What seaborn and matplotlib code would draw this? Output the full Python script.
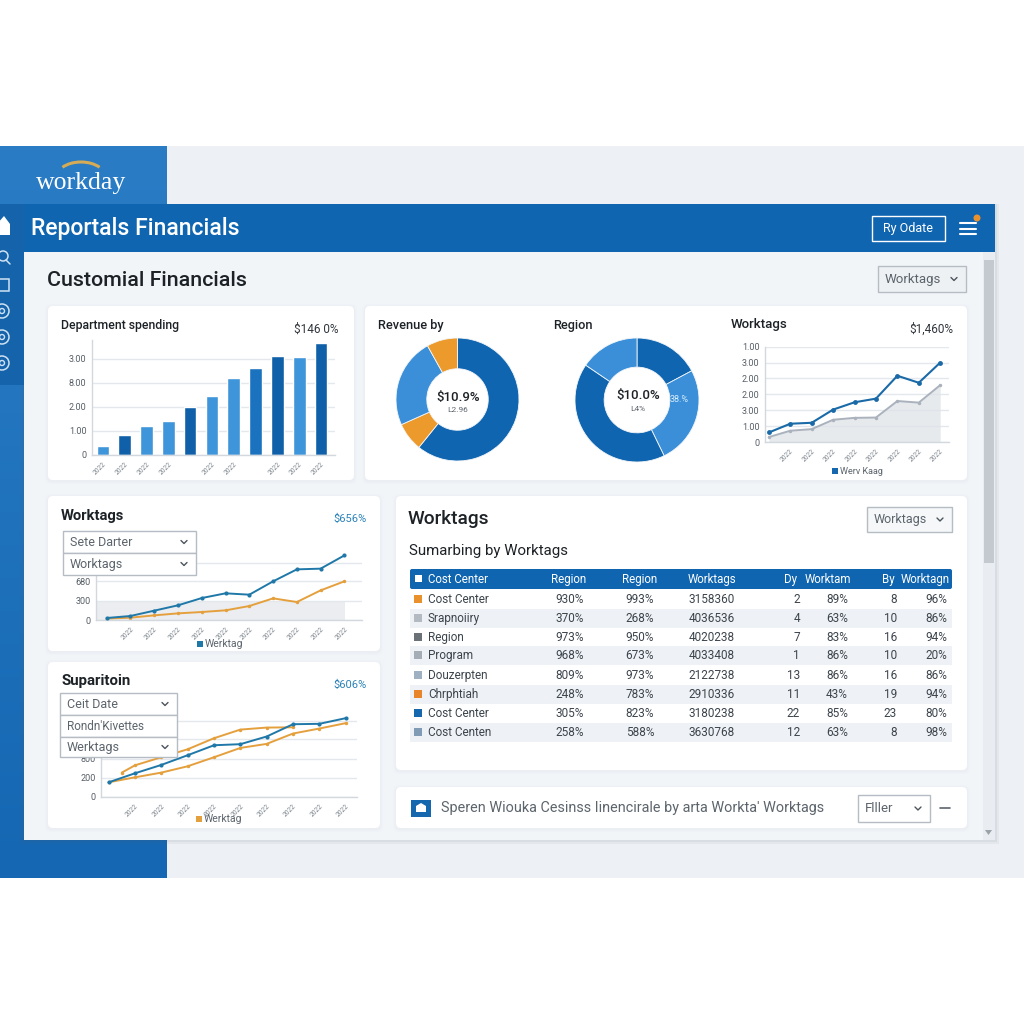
import numpy as np
import pandas as pd
import seaborn as sns
from matplotlib import pyplot as plt
from matplotlib.patches import FancyBboxPatch, Rectangle, Arc, Polygon, Circle

# values
bar_values = [0.38, 0.84, 1.22, 1.40, 1.99, 2.46, 3.19, 3.61, 4.14, 4.07, 4.67]
bar_tones = ["light", "dark", "light", "light", "dark", "light", "light", "mid", "dark", "light", "dark"]
bar_ticks = ["0", "1.00", "2.00", "8.00", "3.00"]

donut_one = [60.8, 7.5, 23.6, 8.1]
donut_two = [17.2, 25.6, 41.7, 15.5]

tags_dark = [0.60, 1.15, 1.21, 2.04, 2.50, 2.73, 4.17, 3.73, 5.00]
tags_gray = [0.31, 0.71, 0.81, 1.40, 1.52, 1.54, 2.58, 2.48, 3.58]
tags_ticks = ["0", "1.00", "3.00", "2.00", "2.00", "3.00", "1.00"]

mid_blue = [31, 62, 145, 228, 341, 414, 393, 600, 786, 797, 1003]
mid_orange = [21, 36, 72, 103, 124, 150, 217, 336, 279, 460, 600]

low_blue = [153, 247, 334, 435, 539, 550, 630, 758, 762, 821]
low_orange = [153, 205, 254, 320, 414, 511, 553, 661, 713, 769]
low_upper_x = [0.5, 1, 2, 3, 4, 5, 6, 7]
low_upper = [254, 330, 414, 497, 612, 702, 723, 726]

table_header = ["Cost Center", "Region", "Region", "Worktags", "Dy", "Worktam", "By", "Worktagn"]
row_names = ["Cost Center", "Srapnoiiry", "Region", "Program", "Douzerpten", "Chrphtiah", "Cost Center", "Cost Centen"]
row_colors = ["#e8912d", "#b4bac1", "#6a7278", "#a4adb6", "#9fb0c2", "#e8842a", "#1668ae", "#7f9bb5"]
col_region_a = ["930%", "370%", "973%", "968%", "809%", "248%", "305%", "258%"]
col_region_b = ["993%", "268%", "950%", "673%", "973%", "783%", "823%", "588%"]
col_worktags = ["3158360", "4036536", "4020238", "4033408", "2122738", "2910336", "3180238", "3630768"]
col_dy = ["2", "4", "7", "1", "13", "11", "22", "12"]
col_dy_pct = ["89%", "63%", "83%", "86%", "86%", "43%", "85%", "63%"]
col_by = ["8", "10", "16", "10", "16", "19", "23", "8"]
col_by_pct = ["96%", "86%", "94%", "20%", "86%", "94%", "80%", "98%"]
row_centers = [599, 618, 637, 655, 675, 694, 713, 732]

BLUE = "#0f65b0"
ORANGE = "#e5a03e"
LINE_BLUE = "#1f78a8"
GRID = "#e4e7eb"
TEXT = "#1d2227"
MUTED = "#5c646c"

sns.set_theme(style="white")
plt.rcParams["font.family"] = ["Roboto", "DejaVu Sans"]
plt.rcParams["axes.unicode_minus"] = False

fig = plt.figure(figsize=(10.24, 10.24), dpi=100, facecolor="white")


def px_axes(left, top, right, bottom, zorder=1):
    a = fig.add_axes([left / 1024, 1 - bottom / 1024, (right - left) / 1024, (bottom - top) / 1024], zorder=zorder)
    a.patch.set_alpha(0)
    return a


ui = px_axes(0, 0, 1024, 1024, 0)
top = px_axes(0, 0, 1024, 1024, 5)
for a in (ui, top):
    a.set_xlim(0, 1024)
    a.set_ylim(1024, 0)
    a.axis("off")


def rect(a, x0, y0, x1, y1, color, z=1, **kw):
    a.add_patch(Rectangle((x0, y0), x1 - x0, y1 - y0, facecolor=color, edgecolor=kw.pop("edge", "none"), zorder=z, **kw))


def card(x0, y0, x1, y1):
    for grow, alpha in ((3, 0.025), (1.5, 0.035)):
        ui.add_patch(FancyBboxPatch((x0 - grow, y0 - grow + 1), x1 - x0 + 2 * grow, y1 - y0 + 2 * grow,
                                    boxstyle="round,pad=0,rounding_size=6", facecolor="#8a97a6", edgecolor="none",
                                    alpha=alpha, zorder=3))
    ui.add_patch(FancyBboxPatch((x0, y0), x1 - x0, y1 - y0, boxstyle="round,pad=0,rounding_size=5",
                                facecolor="white", edgecolor="none", zorder=3.2))


def dropdown(a, x0, y0, x1, y1, label, arrow=True, size=9, face="white", edge="#b6bcc3"):
    rect(a, x0, y0, x1, y1, face, z=6, edge=edge, linewidth=1)
    a.text(x0 + 7, (y0 + y1) / 2 + 4, label, fontsize=size, color=MUTED, va="baseline", zorder=7)
    if arrow:
        ax_ = x1 - 12
        ay_ = (y0 + y1) / 2
        a.plot([ax_ - 3, ax_, ax_ + 3], [ay_ - 1.5, ay_ + 1.5, ay_ - 1.5], color="#4c545c", lw=1.0, zorder=7)


def legend_chip(x, y, color, label, size=7.5):
    rect(ui, x - 3, y - 3, x + 3, y + 3, color, z=4)
    ui.text(x + 5, y + 3, label, fontsize=size, color=MUTED, va="baseline", zorder=4)


def style_chart(a, xlim, ylim, yticks, ylabels, xticks):
    a.set_xlim(*xlim)
    a.set_ylim(*ylim)
    a.set_xlabel("")
    a.set_ylabel("")
    a.set_yticks(yticks)
    a.set_yticklabels(ylabels, fontsize=6.5, color="#565e66")
    a.set_xticks(xticks)
    a.set_xticklabels(["2022"] * len(xticks), fontsize=4.8, color="#7b838b", rotation=45, ha="right",
                      rotation_mode="anchor")
    a.tick_params(axis="both", length=0, pad=4)
    a.grid(axis="y", color=GRID, lw=1)
    a.set_axisbelow(True)
    sns.despine(ax=a, top=True, right=True)
    for s in ("left", "bottom"):
        a.spines[s].set_color("#d3d8de")
        a.spines[s].set_linewidth(1)


# page background and frame
rect(ui, 0, 146, 1024, 878, "#edf1f5", z=0)
grad = np.linspace(0, 1, 200).reshape(-1, 1)
ui.imshow(grad, extent=(0, 167, 878, 146), cmap=sns.blend_palette(["#2a7dc5", "#1567b3"], as_cmap=True),
          aspect="auto", zorder=0.5)
ui.set_xlim(0, 1024)
ui.set_ylim(1024, 0)
ui.text(81, 183, "workday", family="Liberation Serif", fontsize=18.5, color="white", ha="center", va="center", zorder=2)
ui.add_patch(Arc((81, 178), 50, 32, theta1=210, theta2=330, color="#d5ab55", lw=2.2, zorder=2))

# main panel
for grow, alpha in ((4, 0.06), (2, 0.08)):
    rect(ui, 24 - grow, 204, 995 + grow, 840 + grow, "#56626e", z=0.8, alpha=alpha)
rect(ui, 24, 204, 995, 840, "#f2f5f8", z=1)
rect(ui, 24, 204, 995, 252, BLUE, z=1.5)
rect(ui, 0, 204, 24, 385, "#1463ab", z=1.5)
ui.text(31, 229, "Reportals Financials", fontsize=16.6, fontweight="medium", color="white", va="center", zorder=2)
rect(ui, 872, 216, 945, 241, "none", z=2, edge="white", linewidth=1)
ui.text(908, 228.5, "Ry Odate", fontsize=9, color="white", ha="center", va="center", zorder=2)
for y in (223, 228.5, 234):
    ui.plot([960, 976], [y, y], color="white", lw=1.5, zorder=2)
ui.add_patch(Circle((977, 218), 3.5, facecolor="#e8912d", edgecolor="none", zorder=2.2))

# sidebar glyphs, cut off by the left edge
ui.add_patch(Polygon([(-3, 224), (4, 216), (10, 224), (10, 235), (-3, 235)], facecolor="white", edgecolor="none", zorder=2))
ui.add_patch(Circle((3, 256), 5, fill=False, edgecolor="#cfe2f3", lw=1.1, zorder=2))
ui.plot([6, 10], [260, 264], color="#cfe2f3", lw=1.1, zorder=2)
rect(ui, -2, 279, 9, 291, "none", z=2, edge="#cfe2f3", linewidth=1.1)
for y in (311, 337, 363):
    ui.add_patch(Circle((2, y), 7, fill=False, edgecolor="#cfe2f3", lw=1.1, zorder=2))
    ui.add_patch(Circle((2, y), 2.5, fill=False, edgecolor="#cfe2f3", lw=1, zorder=2))

ui.text(47, 280, "Customial Financials", fontsize=15.4, fontweight="medium", color=TEXT, va="center", zorder=2)
dropdown(ui, 878, 266, 966, 292, "Worktags", size=9.5, face="#eef1f4")

# scroll bar
rect(ui, 983, 252, 995, 840, "#e9ecf0", z=1.6)
rect(ui, 984, 260, 994, 563, "#c4c9cf", z=1.7)
ui.add_patch(Polygon([(985, 830), (992, 830), (988.5, 835)], facecolor="#9aa2aa", edgecolor="none", zorder=2))

for box in [(48, 306, 354, 480), (365, 306, 967, 480), (48, 496, 380, 651), (48, 662, 380, 828),
            (396, 496, 967, 770), (396, 787, 967, 828)]:
    card(*box)

# department spending
ui.text(61, 329, "Department spending", fontsize=8.8, fontweight="medium", color=TEXT, va="baseline", zorder=4)
ui.text(338, 329, "$146 0%", fontsize=8.5, color="#30363c", ha="right", va="center", zorder=4)
ax = px_axes(92, 340, 335, 455)
spend = pd.DataFrame({"slot": [str(i) for i in range(len(bar_values))], "value": bar_values, "tone": bar_tones})
sns.barplot(data=spend, x="slot", y="value", hue="tone", dodge=False, width=0.58, legend=False, ax=ax, saturation=1,
            palette={"light": "#3f95d9", "mid": "#1b72be", "dark": "#0f60a8"})
style_chart(ax, (-0.5, 10.64), (0, 4.79), range(5), bar_ticks, [0, 1, 2, 3, 5, 6, 8, 9, 10])

# revenue donuts
ui.text(378, 329, "Revenue by", fontsize=9.2, fontweight="medium", color=TEXT, va="baseline", zorder=4)
ui.text(553, 329, "Region", fontsize=9.2, fontweight="medium", color=TEXT, va="baseline", zorder=4)
d1 = px_axes(396, 338, 519, 461)
d1.pie(donut_one, colors=[BLUE, "#ec9a2c", "#3a8fd8", "#ec9a2c"], startangle=90, counterclock=False, radius=1,
       wedgeprops=dict(width=0.5, edgecolor="#f3f6f9", linewidth=0.6))
d2 = px_axes(575, 338, 699, 462)
d2.pie(donut_two, colors=[BLUE, "#3a8fd8", BLUE, "#3a8fd8"], startangle=90, counterclock=False, radius=1,
       wedgeprops=dict(width=0.47, edgecolor="#f3f6f9", linewidth=0.6))
for d in (d1, d2):
    d.set_xlim(-1, 1)
    d.set_ylim(-1, 1)
top.text(458, 397, "$10.9%", fontsize=9.5, fontweight="medium", color=TEXT, ha="center", va="center")
top.text(458, 410, "L2.96", fontsize=6, color=MUTED, ha="center", va="center")
top.text(638, 396, "$10.0%", fontsize=9.5, fontweight="medium", color=TEXT, ha="center", va="center")
top.text(638, 409, "L4%", fontsize=6, color=MUTED, ha="center", va="center")
top.text(679, 400, "38.%", fontsize=6.5, color="#d7ecfb", ha="center", va="center")

# worktags, top right
ui.text(731, 328, "Worktags", fontsize=9.5, fontweight="medium", color=TEXT, va="baseline", zorder=4)
ui.text(953, 329, "$1,460%", fontsize=8.5, color="#30363c", ha="right", va="center", zorder=4)
ax = px_axes(765, 346.7, 949, 442)
steps = list(range(len(tags_dark)))
ax.fill_between(steps, tags_gray, color="#dfe3e8", alpha=0.75, lw=0, zorder=1)
sns.lineplot(x=steps, y=tags_gray, color="#aab2bd", lw=1.4, ax=ax, zorder=2, marker="o", markersize=2.5, markeredgewidth=0)
sns.lineplot(x=steps, y=tags_dark, color="#1a6aa8", lw=1.5, ax=ax, zorder=3, marker="o", markersize=3.5, markeredgewidth=0)
style_chart(ax, (-0.18, 8.41), (0, 5.98), range(7), tags_ticks, steps[1:])
legend_chip(835, 471, "#1668ae", "Werv Kaag", size=6.5)

# worktags, middle left
ui.text(61, 516, "Worktags", fontsize=10.6, fontweight="bold", color=TEXT, va="center", zorder=4)
ui.text(367, 519, "$656%", fontsize=8, color="#2b82b8", ha="right", va="center", zorder=4)
ax = px_axes(96, 553, 362, 620)
steps = list(range(len(mid_blue)))
ax.axhspan(0, 274, xmin=0, xmax=0.937, facecolor="#e6e9ed", alpha=0.8, lw=0, zorder=1)
sns.lineplot(x=steps, y=mid_orange, color=ORANGE, lw=1.4, ax=ax, zorder=2, marker="o", markersize=2.5, markeredgewidth=0)
sns.lineplot(x=steps, y=mid_blue, color=LINE_BLUE, lw=1.4, ax=ax, zorder=3, marker="o", markersize=3, markeredgewidth=0)
style_chart(ax, (-0.45, 10.74), (0, 1040), [0, 300, 600, 885], ["0", "300", "680", ""], steps[1:])
legend_chip(200, 644, "#1f78a8", "Werktag")
dropdown(top, 63, 531, 196, 553, "Sete Darter")
dropdown(top, 63, 553, 196, 575, "Worktags")

# suparitoin, bottom left
ui.text(61, 681, "Suparitoin", fontsize=10.8, fontweight="bold", color=TEXT, va="center", zorder=4)
ui.text(367, 685, "$606%", fontsize=8, color="#2b82b8", ha="right", va="center", zorder=4)
ax = px_axes(101, 715, 357, 797)
steps = list(range(len(low_blue)))
sns.lineplot(x=low_upper_x, y=low_upper, color=ORANGE, lw=1.4, ax=ax, zorder=2, marker="o", markersize=2.5, markeredgewidth=0)
sns.lineplot(x=steps, y=low_orange, color=ORANGE, lw=1.4, ax=ax, zorder=2, marker="o", markersize=2.5, markeredgewidth=0)
sns.lineplot(x=steps, y=low_blue, color=LINE_BLUE, lw=1.4, ax=ax, zorder=3, marker="o", markersize=3, markeredgewidth=0)
style_chart(ax, (-0.29, 9.43), (0, 854), [0, 200, 400, 600, 792], ["0", "200", "800", "", ""], steps[1:])
legend_chip(199, 819, "#e5a03e", "Werktag")
dropdown(top, 60, 693, 177, 715, "Ceit Date")
dropdown(top, 60, 715, 177, 737, "Rondn'Kivettes", arrow=False, size=8.5)
dropdown(top, 60, 737, 177, 757, "Werktags")

# summary table
ui.text(408, 524, "Worktags", fontsize=13.7, fontweight="medium", color=TEXT, va="baseline", zorder=4)
ui.text(409, 555, "Sumarbing by Worktags", fontsize=10.8, color=TEXT, va="baseline", zorder=4)
dropdown(ui, 867, 507, 952, 532, "Worktags", size=9, face="#f5f7f9")
ui.add_patch(FancyBboxPatch((410, 569), 542, 20, boxstyle="round,pad=0,rounding_size=2", facecolor=BLUE,
                            edgecolor="none", zorder=4))
rect(ui, 415, 575, 422, 582, "white", z=5)
header_x = [428, 569, 640, 712, 791, 828, 888, 925]
header_align = ["left", "center", "center", "center", "center", "center", "center", "center"]
for label, x, ha in zip(table_header, header_x, header_align):
    ui.text(x, 583, label, fontsize=8.3, color="white", ha=ha, va="baseline", zorder=5)
for i, cy in enumerate(row_centers):
    if i % 2 == 1:
        rect(ui, 410, cy - 9.5, 952, cy + 9.5, "#eef1f5", z=3.5)
    rect(ui, 414, cy - 4, 422, cy + 4, row_colors[i], z=4)
    base = cy + 4
    ui.text(428, base, row_names[i], fontsize=8.5, color="#3c444c", va="baseline", zorder=5)
    ui.text(570, base, col_region_a[i], fontsize=8.5, color="#3c444c", ha="center", va="baseline", zorder=5)
    ui.text(640, base, col_region_b[i], fontsize=8.5, color="#3c444c", ha="center", va="baseline", zorder=5)
    ui.text(688.5, base, col_worktags[i], fontsize=8.5, color="#3c444c", va="baseline", zorder=5)
    ui.text(800, base, col_dy[i], fontsize=8.5, color="#3c444c", ha="right", va="baseline", zorder=5)
    ui.text(848, base, col_dy_pct[i], fontsize=8.5, color="#3c444c", ha="right", va="baseline", zorder=5)
    ui.text(897, base, col_by[i], fontsize=8.5, color="#3c444c", ha="right", va="baseline", zorder=5)
    ui.text(947, base, col_by_pct[i], fontsize=8.5, color="#3c444c", ha="right", va="baseline", zorder=5)

# footer strip
rect(ui, 411, 800, 431, 817, "#1668ae", z=4)
ui.add_patch(Polygon([(416, 806), (421, 803), (426, 806), (426, 812), (416, 812)], facecolor="white", edgecolor="none", zorder=5))
ui.text(441, 812, "Speren Wiouka Cesinss Iinencirale by arta Workta' Worktags", fontsize=10.4, color=MUTED, va="baseline", zorder=4)
dropdown(ui, 858, 795, 930, 822, "Flller", size=9.5)
ui.plot([940, 950], [808, 808], color="#5c646c", lw=1.2, zorder=4)

fig.savefig("out.png", dpi=100)
